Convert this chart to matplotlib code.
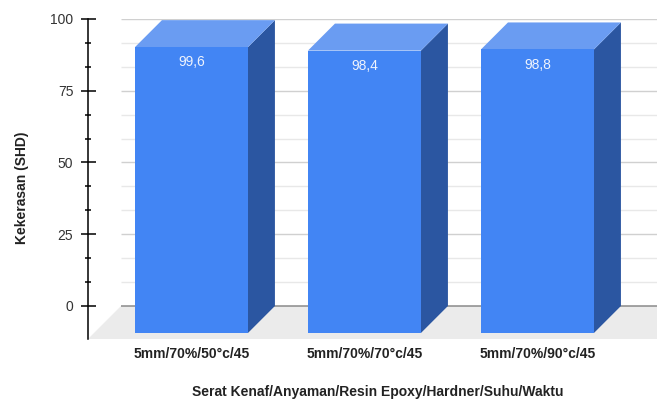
import numpy as np
import matplotlib.pyplot as plt
from matplotlib.patches import Polygon, Rectangle
from matplotlib.transforms import Affine2D, IdentityTransform, blended_transform_factory

plt.rcParams['font.family'] = ['Liberation Sans', 'DejaVu Sans']

categories = ["5mm/70%/50°c/45", "5mm/70%/70°c/45", "5mm/70%/90°c/45"]
hardness = [99.6, 98.4, 98.8]
x_title = "Serat Kenaf/Anyaman/Resin Epoxy/Hardner/Suhu/Waktu"
y_title = "Kekerasan (SHD)"
major_ticks = [0, 25, 50, 75, 100]

W, H = 657, 399
bar_depth = 27      # px, 3D offset of the bars
floor_depth = 33    # px, 3D offset of the floor
bar_width = 0.653

c_front = "#4285f4"
c_side = "#2b56a1"
c_top = "#6a9cf2"
c_floor = "#ebebeb"

fig = plt.figure(figsize=(W / 100, H / 100), dpi=100)
ax = fig.add_axes([88 / W, 60 / H, 569 / W, 320 / H])
ax.set_xlim(-0.754, 2.535)
ax.set_ylim(-11.5, 100)

for s in ["top", "right", "bottom"]:
    ax.spines[s].set_visible(False)
ax.spines["left"].set_linewidth(1.1)
ax.set_xticks([])
ax.set_yticks(major_ticks)
minor = [t for t in np.arange(0, 100, 25 / 3) if min(abs(t - m) for m in major_ticks) > 1]
ax.set_yticks(minor, minor=True)
ax.tick_params(axis="y", which="major", direction="inout", length=10.8, width=1.1,
               pad=5.2, labelsize=10, labelcolor="#333333")
ax.tick_params(axis="y", which="minor", direction="inout", length=5, width=1.1)

fig.canvas.draw()


def px(x, y, depth=0):
    X, Y = ax.transData.transform((x, y))
    return (X - depth, Y - depth)


front_tr = ax.transData + Affine2D().translate(-bar_depth, -bar_depth)

# floor under the bars
x_lo, x_hi = ax.get_xlim()
bl = px(x_lo, 0)
back_left = (bl[0] + floor_depth, bl[1])
back_right = (px(x_hi, 0)[0] + floor_depth, bl[1])
floor = Polygon([back_left, back_right,
                 (back_right[0] - floor_depth, bl[1] - floor_depth),
                 (back_left[0] - floor_depth, bl[1] - floor_depth)],
                closed=True, transform=IdentityTransform(), facecolor=c_floor,
                edgecolor="none", zorder=1)
ax.add_patch(floor)

# back-wall grid lines
x_grid = ax.transData.inverted().transform(back_left)[0]
ax.hlines(minor, x_grid, x_hi, colors="#e8e8e8", linewidth=1, zorder=1.5)
ax.hlines([t for t in major_ticks if t > 0], x_grid, x_hi, colors="#d0d0d0", linewidth=1, zorder=1.6)
ax.hlines([0], x_grid, x_hi, colors="#8a8a8a", linewidth=1.1, zorder=1.7)

# 3D bars
for i, v in enumerate(hardness):
    x0, x1 = i - bar_width / 2, i + bar_width / 2
    side = Polygon([px(x1, 0, bar_depth), px(x1, 0), px(x1, v), px(x1, v, bar_depth)],
                   closed=True, transform=IdentityTransform(), facecolor=c_side,
                   edgecolor="none", zorder=3)
    top = Polygon([px(x0, v, bar_depth), px(x0, v), px(x1, v), px(x1, v, bar_depth)],
                  closed=True, transform=IdentityTransform(), facecolor=c_top,
                  edgecolor="none", zorder=3)
    front = Rectangle((x0, 0), bar_width, v, transform=front_tr, facecolor=c_front,
                      edgecolor="none", zorder=4)
    for p in (side, top, front):
        ax.add_patch(p)
    ax.annotate(f"{v:.1f}".replace(".", ","), (i, v), xycoords=front_tr,
                xytext=(0, -11), textcoords="offset points", ha="center", va="center",
                fontsize=10, color="#eef3fd", zorder=5)

# category labels under the front faces
lab_tr = blended_transform_factory(ax.transData, ax.transAxes) + Affine2D().translate(-bar_depth, -15)
for i, name in enumerate(categories):
    ax.text(i, 0, name, transform=lab_tr, ha="center", va="center",
            fontsize=10, fontweight="bold", color="#222222")

fig.text(378 / W, 1 - 392 / H, x_title, ha="center", va="center",
         fontsize=10, fontweight="bold", color="#222222")
fig.text(22 / W, 1 - 188 / H, y_title, ha="center", va="center", rotation=90,
         fontsize=10, fontweight="bold", color="#222222")

fig.savefig("out.png", dpi=100)
